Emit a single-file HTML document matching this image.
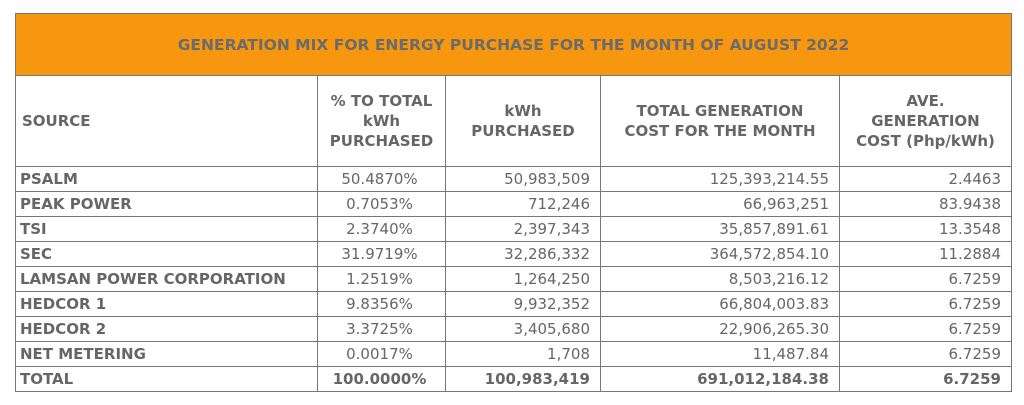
<!DOCTYPE html>
<html><head><meta charset="utf-8"><style>
body{margin:0;width:1024px;height:405px;background:#fff;overflow:hidden}
table{position:absolute;left:15px;top:13px;border-collapse:collapse;table-layout:fixed;font-family:"DejaVu Sans","Liberation Sans",sans-serif;font-size:15px;color:#666}
td,th{border:1px solid #777;padding:0 6px;white-space:nowrap;overflow:hidden}
.title{background:#F7960F;height:61px;text-align:center;font-weight:bold;color:#6b6b6b;font-size:15.5px}
.hdr th{height:90px;line-height:20px;font-weight:bold;text-align:center}
.hdr th.src{text-align:left}
tbody td{height:24px;text-align:right;padding-right:10px}
tbody td.n{text-align:left;font-weight:bold;padding-left:4px}
tbody td.c{text-align:center}
tr.total td{font-weight:bold}
</style></head><body>
<table>
<colgroup><col style="width:302px"><col style="width:128px"><col style="width:155px"><col style="width:239px"><col style="width:172px"></colgroup>
<thead>
<tr><th colspan="5" class="title">GENERATION MIX FOR ENERGY PURCHASE FOR THE MONTH OF AUGUST 2022</th></tr>
<tr class="hdr">
<th class="src">SOURCE</th>
<th>% TO TOTAL<br>kWh<br>PURCHASED</th>
<th>kWh<br>PURCHASED</th>
<th>TOTAL GENERATION<br>COST FOR THE MONTH</th>
<th>AVE.<br>GENERATION<br>COST (Php/kWh)</th>
</tr></thead>
<tbody>
<tr><td class="n">PSALM</td><td class="c">50.4870%</td><td>50,983,509</td><td>125,393,214.55</td><td>2.4463</td></tr>
<tr><td class="n">PEAK POWER</td><td class="c">0.7053%</td><td>712,246</td><td>66,963,251</td><td>83.9438</td></tr>
<tr><td class="n">TSI</td><td class="c">2.3740%</td><td>2,397,343</td><td>35,857,891.61</td><td>13.3548</td></tr>
<tr><td class="n">SEC</td><td class="c">31.9719%</td><td>32,286,332</td><td>364,572,854.10</td><td>11.2884</td></tr>
<tr><td class="n">LAMSAN POWER CORPORATION</td><td class="c">1.2519%</td><td>1,264,250</td><td>8,503,216.12</td><td>6.7259</td></tr>
<tr><td class="n">HEDCOR 1</td><td class="c">9.8356%</td><td>9,932,352</td><td>66,804,003.83</td><td>6.7259</td></tr>
<tr><td class="n">HEDCOR 2</td><td class="c">3.3725%</td><td>3,405,680</td><td>22,906,265.30</td><td>6.7259</td></tr>
<tr><td class="n">NET METERING</td><td class="c">0.0017%</td><td>1,708</td><td>11,487.84</td><td>6.7259</td></tr>
<tr class="total"><td class="n">TOTAL</td><td class="c">100.0000%</td><td>100,983,419</td><td>691,012,184.38</td><td>6.7259</td></tr>
</tbody></table>
</body></html>
